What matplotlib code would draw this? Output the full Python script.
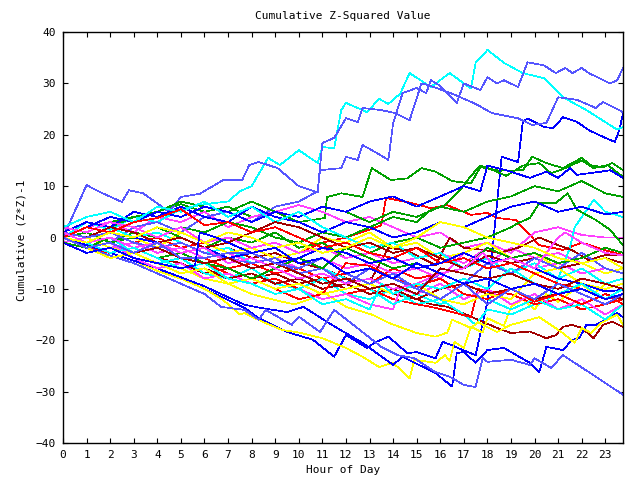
import matplotlib
matplotlib.use('Agg')
import matplotlib.pyplot as plt

# gnuplot-like colours
RED = '#ff0000'
GREEN = '#00a000'
BLUE = '#0000ff'
MAGENTA = '#ff40ff'
CYAN = '#00ffff'
DKRED = '#a00000'
YELLOW = '#ffff00'
SLATE = '#5555ff'

# shared hourly grid for the plain series
HOURS = list(range(24)) + [23.75]

x_ticks = list(range(24))
y_ticks = [-40, -30, -20, -10, 0, 10, 20, 30, 40]

# --- series (hour, cumulative value) ---
slate1_h = [0, 1, 1.5, 2.5, 2.8, 3.4, 4.5, 5, 5.8, 6.8, 7.6, 7.9, 8.3, 9.1, 10, 10.8, 10.9, 11.8, 12, 12.5,
            12.7, 13.1, 13.8, 14, 14.4, 15, 15.4, 15.6, 16, 16.7, 17, 17.7, 18, 18.4, 18.7, 19.3, 19.7, 20.4,
            20.9, 21.3, 21.6, 22, 22.3, 23.2, 23.5, 23.75]
slate1_v = [0, 10.2, 9, 6.9, 9.2, 8.6, 5, 7.9, 8.5, 11.2, 11.2, 14.1, 14.7, 13.5, 10, 8.8, 13.1, 13.5, 15.7, 15.1,
            18, 17, 15.1, 22.2, 28.1, 29.1, 28.1, 30.6, 29.5, 26.2, 30, 28.7, 31.2, 30, 30.6, 29.3, 34.1, 33.5,
            32, 33, 32, 33, 32, 30, 30.6, 33]

slate2_h = [0, 1, 2, 3, 4, 5, 6, 7, 8, 9, 10, 10.8, 11, 11.5, 12, 12.5, 12.7, 13.5, 14.1, 14.7, 15.2, 15.6,
            16.5, 17.5, 18.2, 19.3, 19.9, 20.5, 21, 21.8, 22.6, 22.9, 23.75]
slate2_v = [0, 1, -1, 2, 3, 1, 4, 5, 3, 6, 7, 9, 18.4, 19.4, 23.2, 22.5, 25.2, 24.8, 24.2, 22.8, 30, 29.5,
            28, 26, 24.2, 23.2, 21.9, 22.3, 27.3, 26.8, 25.2, 26.4, 24.4]

slate3_h = [0, 1, 2, 3, 4, 5, 6, 6.7, 7.7, 8.3, 8.6, 9.7, 10, 10.9, 11.5, 12.7, 13.5, 14.2, 14.9, 15.8, 16.4,
            17, 17.5, 17.8, 18, 19, 19.8, 20, 20.7, 21.2, 22.3, 23.75]
slate3_v = [0, -2, -3.5, -5, -7, -9, -11, -13.5, -14.1, -16, -14.1, -17, -15.4, -18.4, -14.1, -18.4, -21.3,
            -22.9, -23.5, -26.2, -27.1, -28.7, -29.1, -23.4, -24.2, -23.8, -24.8, -23.5, -25.4, -22.9, -26.2,
            -30.6]

slate4_v = [1, 0, 1, -1, -2, -1, -3, -4, -5, -4, -7, -6, -9, -6, -8, -10, -7, -9, -5, -7, -4, -6, -3, -6, -7]
slate5_v = [0, -2, -1, -3, -1, -4, -4, -3, -3, -5, -6, -4, -7, -9, -7, -10, -12, -9, -13, -10, -12, -9, -11,
            -13, -11]

cyan1_h = [0, 1, 2, 3, 4, 5, 6, 7, 7.5, 8, 8.7, 9.2, 10, 10.8, 11, 11.5, 11.8, 12, 12.9, 13.4, 13.8, 14.3,
           14.7, 15.6, 16.4, 17.3, 17.5, 18, 18.7, 19.5, 20.4, 21.2, 22.2, 23.5, 23.75]
cyan1_v = [0, 3, 1.5, 4, 3, 5.5, 6.5, 7, 9, 10, 15.5, 14.1, 17, 14.5, 17.6, 17.4, 24.8, 26.2, 24.4, 27, 26,
           28, 32, 29.3, 32, 29, 34, 36.5, 34, 32, 31, 27.3, 24.8, 21, 21.5]

cyan2_h = [0, 1, 2, 3, 4, 5, 6, 7, 8, 9, 10, 11, 12, 13, 14, 15, 16, 17, 17.5, 18, 19, 20, 20.5, 21, 21.5,
           21.7, 22.5, 23, 23.75]
cyan2_v = [-1, -2, 0, -3, -5, -4, -7, -8, -6, -9, -10, -8, -11, -12, -10, -13, -12, -15, -17, -14, -15, -13,
           -12.7, -8, -2, 2, 7.3, 5, 4]

cyan3_v = [1, 3, 2, 0, 1, -1, -3, -2, -5, -4, -7, -6, -8, -10, -13, -11, -13, -11, -12, -14, -12, -14, -13,
           -16, -13]
cyan4_v = [2, 4, 5, 3, 6, 5, 7, 4, 6, 3, 5, 2, 0, -2, -1, -4, -3, -6, -4, -7, -5, -8, -6, -9, -8]

cyan5_h = [0, 1, 2, 3, 4, 5, 6, 7, 8, 9, 10, 11, 12, 13, 13.5, 14, 15, 16, 17, 18, 19, 20, 21, 22, 23, 23.75]
cyan5_v = [0, -1, -3, -2, -4, -6, -5, -8, -9, -11, -10, -13, -12, -14, -9, -11, -9, -10, -8, -10, -6, -9,
           -11, -9, -12, -10]

magenta1_v = [0, 2, 3, 1, 4, 3, 5, 2, 4, 5, 6.3, 5, 3, 4, 2, 0, 1, -2, -1, -3, 1, 2, 0.5, 0, 0]
magenta2_v = [-1, 0, -2, -1, -3, -2, -4, -3, -5, -4, -6, -4, -6, -5, -7, -6, -8, -3, -5, -2, -4, -3, -5, -4,
              -5]
magenta3_h = [0, 1, 2, 3, 4, 5, 6, 7, 8, 9, 10, 11, 12, 13, 14, 14.3, 15, 16, 17, 18, 19, 20, 21, 22, 23,
              23.75]
magenta3_v = [0, -2, -1, -4, -6, -5, -8, -7, -9, -11, -10, -12, -11, -13, -14, -10, -11, -9, -12, -10, -13,
              -11, -14, -12, -15, -13]
magenta4_v = [2, 1, 3, 2, 0, 2, -1, 0, -2, -1, -3, -2, -4, -3, -5, -4, -3, -5, -2, -4, -6, -5, -7, -6, -7]
magenta5_h = [0, 1, 2, 3, 4, 5, 6, 7, 8, 9, 10, 11, 12, 13, 14, 15, 16, 17, 17.8, 18.2, 19, 20, 21, 21.3,
              22, 23, 23.75]
magenta5_v = [1, -1, 0, -2, -1, -3, -2, -5, -4, -6, -8, -7, -9, -8, -10, -9, -7, -6, -3, -5, -4, -6, 0, 1,
              -1, -3, -3.5]

yellow1_h = [0, 1, 2, 3, 4, 5, 6, 6.8, 7.5, 7.7, 8.5, 9.3, 10, 11, 12, 12.7, 13.4, 14, 14.7, 14.9, 15.8,
             16.2, 16.4, 16.6, 17, 17.3, 17.8, 18, 18.7, 19, 19.5, 20, 20.5, 21, 22, 22.5, 23, 23.75]
yellow1_v = [0, -1.5, -3, -4.5, -6.5, -8, -10, -12.2, -15, -14.7, -16.5, -18, -18.5, -19.6, -21.5, -23.2,
             -25.2, -24.4, -27.4, -23.8, -24.4, -22.9, -24, -20.3, -21.5, -17.4, -18.5, -15.7, -17.2, -13.5,
             -12, -14, -11, -12.5, -9, -11, -9, -8]

yellow2_h = [0, 1, 2, 3, 4, 5, 6, 7, 8, 9, 9.8, 10.5, 11, 12, 13.1, 13.8, 15, 15.8, 16.3, 16.5, 17.3, 17.6,
             18.4, 19, 20.2, 21.2, 21.7, 22, 22.4, 22.8, 23.5, 23.75]
yellow2_v = [1, 0, -2, -3, -5, -6, -8, -9, -11, -12.2, -13, -12, -10.5, -13.5, -15, -16.6, -18.6, -19.3,
             -18.5, -16, -17.6, -16.5, -18.4, -17, -15.5, -18.6, -20.5, -17.6, -18.6, -16.7, -15, -17]

yellow3_v = [0, 1, -1, 0, -2, 1, -1, -3, -2, -4, -3, 0, -1, 1, -2, -1, -4, -3, -1, -4, -3, -6, -5, -7, -6]
yellow4_v = [-1, -2, -4, -3, -5, -7, -6, -9, -8, -10, -9, -11, -10, -9, -11, -9, -12, -13, -11, -12, -7, -6,
             -9, -10, -9]
yellow5_v = [0, -1, 1, 0, 2, 1, -1, 1, 0, -2, -1, -3, -2, 0, -2, 0, 3, 2, 0, -1, -2, -4, -5, -4, -6]

red1_h = [0, 1, 2, 3, 4, 5, 6, 7, 8, 9, 10, 11, 12, 13, 13.5, 13.7, 14.8, 15.6, 16.3, 17.3, 18, 18.4, 19.2,
          20.2, 21.2, 22, 23, 23.75]
red1_v = [0, -1, 1, -1, 0, -2, -1, -3, -2, -1, -3, -1, 0, 1.5, 2.4, 7.7, 6.7, 5.7, 6.3, 4.4, 4.8, 3.8, 3.4,
          -1.5, -2.4, -1, -2.5, -3.4]
red2_v = [1, 0, -2, -1, -3, -2, -4, -6, -5, -7, -6, -8, -7, -9, -6, -8, -7, -9, -8, -10, -9, -11, -10, -12,
          -10]
red3_h = [0, 1, 2, 3, 4, 5, 6, 7, 8, 9, 10, 11, 12, 13, 14, 15, 15.6, 16.5, 17.3, 17.6, 18, 19, 20, 21, 22,
          23, 23.75]
red3_v = [0, -2, -3, -2, -4, -6, -5, -7, -9, -8, -10, -12, -11, -10, -12, -13, -13.5, -14.5, -15.5, -10,
          -10.5, -11, -13, -12, -14, -13, -12]
red4_v = [-1, -3, -2, -4, -5, -7, -6, -9, -8, -10, -12, -11, -5, -5.5, -8, -9.5, -8, -11, -12, -10, -12.5,
          -11, -13, -11, -13]
red5_v = [0, 2, 1, 3, 3.8, 5.5, 2.4, 3, 1, 2, 0, -2, -1, -3, -4, -2, -5, -4, -6, -5, -7, -9, -10, -12, -11]

dkred1_h = [0, 1, 2, 3, 4, 5, 6, 7, 8, 9, 10, 11, 12, 13, 14, 15, 15.6, 16.3, 17.1, 18.4, 19, 19.8, 20.5,
            20.9, 21.2, 21.6, 22, 22.5, 22.9, 23.3, 23.75]
dkred1_v = [0, -1, -3, -2, -4, -5, -7, -6, -8, -7, -9, -8, -10, -9, -11, -12, -13, -13.5, -15, -17.6, -18.6,
            -18.3, -19.6, -19, -17.4, -17, -17.6, -19.6, -17, -16.4, -17.4]
dkred2_h = [0, 1, 2, 3, 4, 5, 6, 7, 8, 9, 10, 11, 12, 12.5, 13.1, 13.8, 14.4, 14.8, 15.8, 16.4, 17, 17.8,
            18.5, 19.3, 20.2, 21, 21.6, 22.3, 23, 23.75]
dkred2_v = [0, 1, -1, 0, -2, -1, -3, -2, -4, -3, -5, -6, -7.9, -8.5, -7.9, -2, -2.4, -3, -5.4, 0, -2, -2.4,
            -3, -2, 0, -1.5, -2.5, -4.4, -3.4, -3.4]
dkred3_v = [-1, -2, -4, -3, -5, -7, -6, -8, -7, -9, -8, -10, -9, -11, -10, -12, -10, -9, -11, -10, -12, -11,
            -13, -11, -12]
dkred4_v = [1, 0, 2, 1, -1, 0, -2, -1, 1, 3, 2, 0, -2, -1, -3, -2, -4, -6, -3.5, -5, -4, -6, -5, -4, -5]
dkred5_v = [0, -2, -1, -3, -2, -4, -5, -4, -6, -5, -7, -9, -8, -10, -9, -11, -6, -7, -8, -7, -9, -10, -8,
            -9, -10]

green1_h = [0, 1, 2, 3, 4, 5, 6, 7, 8, 9, 10, 11.1, 11.2, 11.8, 12.7, 13.1, 13.9, 14.6, 15.2, 15.8, 16.5,
            17.3, 17.7, 18.5, 19.5, 19.9, 20.5, 21.2, 22, 22.4, 22.9, 23.3, 23.75]
green1_v = [0, 2, 3, 4, 5, 6.5, 5, 6, 4, 5, 3, 3.8, 7.9, 8.6, 7.9, 13.5, 11.2, 11.5, 13.5, 12.8, 11, 10.5,
            13.7, 13, 13.1, 15.7, 14.5, 13.5, 15.5, 14, 13.7, 14.5, 13.1]
green2_h = [0, 1, 2, 3, 4, 5, 6, 7, 8, 9, 10, 11, 12, 13, 14, 15, 15.6, 16.2, 16.8, 17.3, 17.7, 18.3, 18.8,
            19.5, 20.2, 20.7, 21.3, 22, 22.5, 23.1, 23.75]
green2_v = [0, -2, -1, 1, 0, 2, 1, 3, 2, 0, -1, 1, 0, 2, 4, 3, 5.4, 6.3, 9, 12, 14, 13, 12, 14, 14.5, 12.5,
            13.5, 15, 13.5, 14.1, 11.8]
green3_v = [1, 3, 2, 4, 5, 7, 6, 5, 7, 5, 4, 6, 5, 3, 5, 4, 6, 5, 7, 8, 10, 9, 11, 8.6, 7.9]
green4_h = [0, 1, 2, 3, 4, 5, 6, 7, 8, 9, 10, 11, 12, 13, 14, 15, 16, 17, 18, 19, 19.3, 19.8, 20.2, 20.9,
            21.4, 21.8, 22.6, 23.2, 23.75]
green4_v = [0, 1, -1, 0, 2, 0, -2, 0, -1, 1, -2, -1, -4, -3, -1, 0, -2, -1, 0, 2, 2.8, 3.8, 6.7, 6.7, 8.6,
            5.4, 3.4, 1.5, -1.5]
green5_v = [-1, -2, 0, -2, -4, -3, -5, -6, -8, -6, -4, -6, -2, -4, -6, -5, -7, -6, -2, -4, -3, -5, -4, -2, -3]

blue1_h = [0, 2, 4, 6, 7.7, 8.3, 9.5, 10.6, 11.5, 12, 12.9, 13.2, 13.8, 14.6, 15, 15.8, 16.1, 16.5, 17,
           17.5, 18, 18.6, 19.3, 19.5, 19.7, 20.4, 20.8, 21.2, 21.8, 22.3, 22.9, 23.4, 23.6, 23.75]
blue1_v = [0, -3, -6, -10, -13.7, -15.7, -18.4, -19.9, -23.2, -19, -21.5, -20.5, -19.3, -22.5, -22.3, -23.5,
           -20.3, -21, -22, -22.9, -12.5, 15.7, 14.7, 22.5, 23.2, 21.5, 21.3, 23.4, 22.5, 20.9, 19.6, 18.6,
           21, 24.2]
blue2_h = [0, 2, 4, 6, 7.7, 8.5, 9.5, 10, 10.2, 11.4, 12.7, 14, 14.4, 15.8, 16.5, 16.7, 17, 17.5, 18, 18.7,
           19.8, 20.2, 20.5, 21.2, 21.6, 21.9, 22.2, 22.6, 23.5, 23.75]
blue2_v = [0, -3, -6, -9.5, -13.1, -13.8, -14.5, -13.8, -13.5, -17, -20.5, -24.8, -23.2, -26.4, -29, -22.5,
           -22.3, -24.4, -21.9, -21.5, -24.4, -26.2, -21.3, -21.9, -19.9, -19.6, -17, -17, -14.7, -15.5]
blue3_h = [0, 1, 2, 3, 4, 5, 6, 7, 8, 9, 10, 11, 12, 13, 14, 15, 16, 17, 17.7, 18, 18.8, 19.8, 20.5, 21,
           21.5, 21.8, 22.8, 23.2, 23.75]
blue3_v = [0, 2, 4, 3, 5, 4, 6, 5, 3, 5, 4, 6, 5, 7, 8, 6, 8, 10, 9, 14, 13.1, 11.6, 12.8, 11.6, 13.5, 12.2,
           12.8, 13.1, 11.6]
blue4_v = [1, 3, 2, 5, 4, 6, 4, 3, 6, 4, 3, 1, 3, 2, 0, 1, 3, 2, 4, 6, 7, 5, 6, 4.5, 5]
blue5_v = [0, -1, 1, 0, -1, -3, -2, -4, -3, -5, -4, -2, -3, -5, -4, -6, -5, -3, -5, -4, -6, -8, -9, -10.5,
           -10.2]
blue6_h = [0, 1, 2, 3, 4, 5, 5.6, 5.8, 6.5, 7, 8, 9, 10, 11, 12, 13, 14, 15, 16, 17, 18, 19, 20, 21, 22, 23,
           23.75]
blue6_v = [-1, -3, -2, -4, -5, -6, -5.4, 1, 0, -1, -3, -2, -5, -4, -7, -6, -8, -5, -7, -9, -8, -10, -9, -11,
           -10, -12, -11]

# plot order cycles through the colours like gnuplot does
series = [
    (red1_h, red1_v, RED), (green1_h, green1_v, GREEN), (blue1_h, blue1_v, BLUE),
    (HOURS, magenta1_v, MAGENTA), (cyan1_h, cyan1_v, CYAN), (dkred1_h, dkred1_v, DKRED),
    (yellow1_h, yellow1_v, YELLOW), (slate1_h, slate1_v, SLATE),
    (HOURS, red2_v, RED), (green2_h, green2_v, GREEN), (blue2_h, blue2_v, BLUE),
    (HOURS, magenta2_v, MAGENTA), (cyan2_h, cyan2_v, CYAN), (dkred2_h, dkred2_v, DKRED),
    (yellow2_h, yellow2_v, YELLOW), (slate2_h, slate2_v, SLATE),
    (red3_h, red3_v, RED), (HOURS, green3_v, GREEN), (blue3_h, blue3_v, BLUE),
    (magenta3_h, magenta3_v, MAGENTA), (HOURS, cyan3_v, CYAN), (HOURS, dkred3_v, DKRED),
    (HOURS, yellow3_v, YELLOW), (slate3_h, slate3_v, SLATE),
    (HOURS, red4_v, RED), (green4_h, green4_v, GREEN), (HOURS, blue4_v, BLUE),
    (HOURS, magenta4_v, MAGENTA), (HOURS, cyan4_v, CYAN), (HOURS, dkred4_v, DKRED),
    (HOURS, yellow4_v, YELLOW), (HOURS, slate4_v, SLATE),
    (HOURS, red5_v, RED), (HOURS, green5_v, GREEN), (HOURS, blue5_v, BLUE),
    (magenta5_h, magenta5_v, MAGENTA), (cyan5_h, cyan5_v, CYAN), (HOURS, dkred5_v, DKRED),
    (HOURS, yellow5_v, YELLOW), (HOURS, slate5_v, SLATE),
    (blue6_h, blue6_v, BLUE),
]

plt.rcParams['font.family'] = ['DejaVu Sans Mono']

fig = plt.figure(figsize=(6.4, 4.8), dpi=100)
ax = fig.add_axes([63 / 640, 37 / 480, 560 / 640, 411 / 480])

# thin, non-antialiased lines to get the 1px gnuplot look
for h, v, c in series:
    ax.plot(h, v, color=c, linewidth=0.5, antialiased=False)

ax.set_xlim(0, 23.75)
ax.set_ylim(-40, 40)
ax.set_xticks(x_ticks)
ax.set_yticks(y_ticks)
ax.tick_params(direction='in', length=3.6, width=0.8, top=True, right=True,
               labelsize=8, pad=5, colors='black')
for sp in ax.spines.values():
    sp.set_linewidth(1.0)

fig.text(343 / 640, 1 - 16 / 480, 'Cumulative Z-Squared Value', ha='center', va='center', fontsize=8)
fig.text(343 / 640, 1 - 470 / 480, 'Hour of Day', ha='center', va='center', fontsize=8)
fig.text(22 / 640, 1 - 240 / 480, 'Cumulative (Z*Z)-1', ha='center', va='center', rotation=90, fontsize=8)

fig.savefig('out.png', dpi=100)
